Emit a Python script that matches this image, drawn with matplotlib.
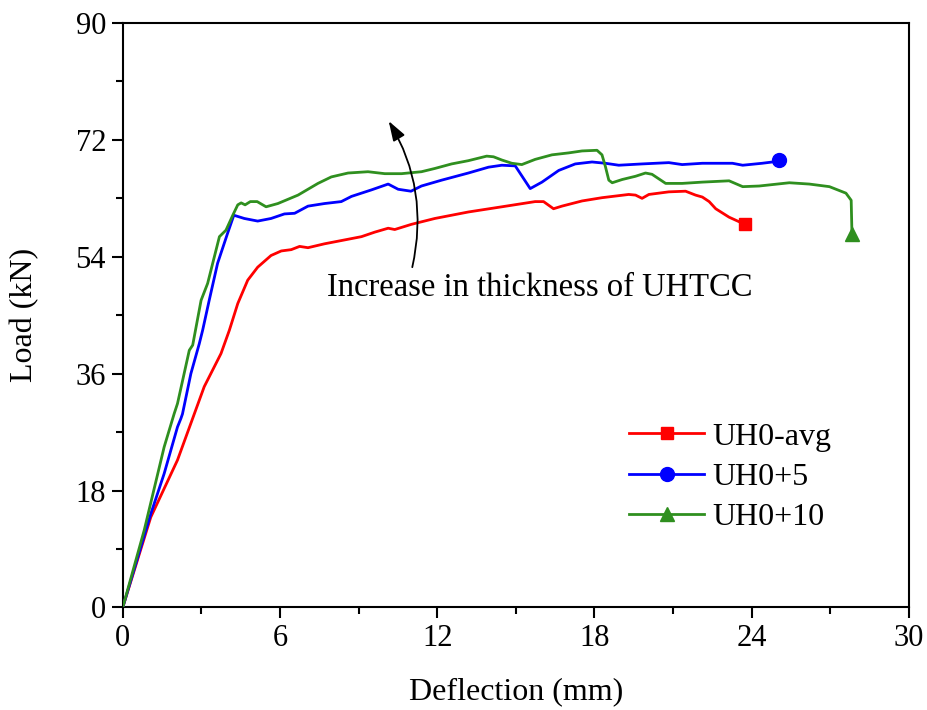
import matplotlib
matplotlib.use("Agg")
import matplotlib.pyplot as plt
from matplotlib.lines import Line2D

plt.rcParams['font.family'] = ['Liberation Serif', 'DejaVu Serif']

# ---- data ----
red_x = [0, 1.07, 2.09, 3.11, 3.75, 4.07, 4.39, 4.77, 5.15, 5.66, 6.05, 6.43, 6.75, 7.07, 7.7,
         8.47, 9.11, 9.62, 10.13, 10.38, 11.02, 11.91, 13.19, 14.47, 15.74, 16.06, 16.44, 16.76,
         17.53, 18.29, 19.31, 19.57, 19.82, 20.08, 20.84, 21.48, 21.86, 22.12, 22.38, 22.63,
         23.14, 23.74]
red_y = [0, 13.9, 22.7, 34.0, 39.1, 42.7, 46.8, 50.4, 52.4, 54.2, 54.9, 55.1, 55.6, 55.4, 56.0,
         56.6, 57.1, 57.8, 58.4, 58.2, 59.0, 59.9, 60.9, 61.7, 62.5, 62.5, 61.4, 61.8,
         62.6, 63.1, 63.6, 63.5, 63.0, 63.6, 64.0, 64.1, 63.5, 63.2, 62.5, 61.4,
         60.1, 59.0]

blue_x = [0, 1.07, 1.58, 2.09, 2.22, 2.28, 2.6, 2.92, 3.05, 3.3, 3.62, 4.0, 4.24, 4.64, 5.15,
          5.66, 6.17, 6.56, 7.07, 7.7, 8.34, 8.73, 9.49, 10.13, 10.51, 11.0, 11.4, 12.17, 13.19,
          13.96, 14.47, 14.98, 15.55, 16.0, 16.64, 17.27, 17.91, 18.42, 18.93, 19.82, 20.84,
          21.35, 22.12, 23.27, 23.66, 24.4, 24.8, 25.05]
blue_y = [0, 14.4, 20.6, 27.8, 29.1, 29.8, 36.0, 40.6, 42.7, 47.3, 53.0, 57.6, 60.4, 59.9, 59.5,
          59.9, 60.6, 60.7, 61.8, 62.2, 62.5, 63.3, 64.3, 65.2, 64.4, 64.1, 64.9, 65.8, 66.9,
          67.8, 68.1, 68.0, 64.5, 65.5, 67.3, 68.3, 68.6, 68.4, 68.1, 68.3, 68.5,
          68.2, 68.4, 68.4, 68.1, 68.4, 68.6, 68.9]

green_x = [0, 0.82, 1.58, 1.96, 2.09, 2.54, 2.67, 2.99, 3.24, 3.69, 3.94, 4.2, 4.39, 4.52, 4.67,
           4.87, 5.13, 5.47, 5.92, 6.69, 7.45, 7.96, 8.6, 9.36, 10.0, 10.64, 11.4, 11.91, 12.55,
           13.19, 13.89, 14.15, 14.47, 14.85, 15.23, 15.74, 16.38, 17.02, 17.53, 18.1, 18.29,
           18.42, 18.55, 18.68, 19.06, 19.57, 19.95, 20.2, 20.72, 21.35, 22.12, 23.14, 23.66,
           24.29, 25.44, 26.2, 26.97, 27.6, 27.8, 27.83]
green_y = [0, 11.9, 24.7, 29.8, 31.4, 39.6, 40.4, 47.3, 49.9, 57.1, 58.1, 60.4, 62.0, 62.3, 62.0,
           62.5, 62.5, 61.7, 62.2, 63.5, 65.3, 66.3, 66.9, 67.1, 66.8, 66.8, 67.1, 67.6, 68.3,
           68.8, 69.5, 69.4, 68.9, 68.4, 68.2, 69.0, 69.7, 70.0, 70.3, 70.4, 69.7,
           67.9, 65.8, 65.4, 65.9, 66.4, 66.9, 66.7, 65.3, 65.3, 65.5, 65.7, 64.8,
           64.9, 65.4, 65.2, 64.8, 63.8, 62.7, 57.5]

labels = ['UH0-avg', 'UH0+5', 'UH0+10']
colors = ['#FF0000', '#0000FF', '#2F8F1F']
markers = ['s', 'o', '^']
xticks = [0, 6, 12, 18, 24, 30]
yticks = [0, 18, 36, 54, 72, 90]
annot_text = 'Increase in thickness of UHTCC'

# ---- figure ----
fig = plt.figure(figsize=(9.27, 7.10), dpi=100)
ax = fig.add_axes([0.1324, 0.1444, 0.848, 0.8232])

series = [(red_x, red_y), (blue_x, blue_y), (green_x, green_y)]
handles = []
for (xs, ys), c, m, lab in zip(series, colors, markers, labels):
    ax.plot(xs, ys, color=c, lw=2.0, solid_joinstyle='round', zorder=3)
    ms = 9 if m == 's' else 10
    ax.plot(xs[-1:], ys[-1:], linestyle='none', marker=m, color=c,
            markersize=ms, zorder=4, clip_on=False)
    handles.append(Line2D([], [], color=c, lw=2.0, marker=m, markersize=ms, label=lab))

ax.set_xlim(0, 30)
ax.set_ylim(0, 90)
ax.set_xticks(xticks)
ax.set_yticks(yticks)
ax.set_xticks([3, 9, 15, 21, 27], minor=True)
ax.set_yticks([9, 27, 45, 63, 81], minor=True)
ax.tick_params(which='major', direction='out', length=8, width=1.5, labelsize=22, pad=4,
               top=False, right=False)
ax.tick_params(which='minor', direction='out', length=5, width=1.5, top=False, right=False)
for s in ax.spines.values():
    s.set_linewidth(1.5)

ax.set_xlabel('Deflection (mm)', fontsize=23, labelpad=17)
ax.set_ylabel('Load (kN)', fontsize=23, labelpad=26)

ax.text(15.92, 49.3, annot_text, fontsize=23.5, ha='center', va='center')
ax.annotate('', xy=(10.15, 74.9), xytext=(11.05, 52.4),
            arrowprops=dict(arrowstyle='-|>,head_length=0.6,head_width=0.2', color='black',
                            lw=1.3, mutation_scale=20,
                            shrinkA=0, shrinkB=0, connectionstyle='arc3,rad=0.2'))

leg = ax.legend(handles=handles, loc='upper left', bbox_to_anchor=(0.644, 0.317),
                frameon=False, fontsize=23, numpoints=1, handlelength=2.35,
                handletextpad=0.25, labelspacing=0.34, borderpad=0, borderaxespad=0)

fig.savefig('out.png', dpi=100)
